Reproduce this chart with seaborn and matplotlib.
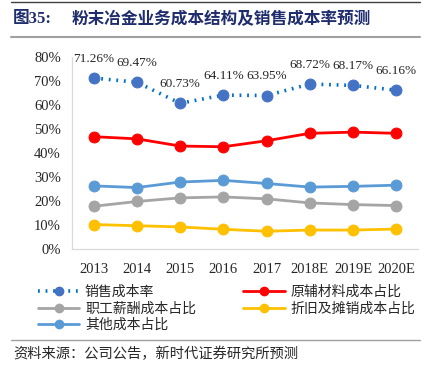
import numpy as np
import pandas as pd
import matplotlib
matplotlib.use("Agg")
import matplotlib.pyplot as plt
from matplotlib.ticker import PercentFormatter
from matplotlib.lines import Line2D
import seaborn as sns

years = ['2013', '2014', '2015', '2016', '2017', '2018E', '2019E', '2020E']
sales_cost_rate = [71.26, 69.47, 60.73, 64.11, 63.95, 68.72, 68.17, 66.16]
raw_material = [46.8, 45.9, 42.9, 42.6, 45.1, 48.2, 48.7, 48.2]
staff_pay = [17.8, 19.8, 21.3, 21.7, 20.9, 19.2, 18.5, 18.1]
depreciation = [10.2, 9.7, 9.2, 8.2, 7.4, 7.9, 7.9, 8.3]
other_cost = [26.3, 25.6, 27.9, 28.6, 27.3, 25.8, 26.1, 26.6]

sns.set_style("white")
plt.rcParams['font.family'] = ['Liberation Serif', 'Noto Sans CJK SC', 'DejaVu Sans']

fig = plt.figure(figsize=(4.29, 3.75), dpi=100)
ax = fig.add_axes([0.168, 0.336, 0.806, 0.512])

x = np.arange(len(years))
series = [
    ('原辅材料成本占比', raw_material, '#FF0000'),
    ('职工薪酬成本占比', staff_pay, '#A5A5A5'),
    ('折旧及摊销成本占比', depreciation, '#FFC000'),
    ('其他成本占比', other_cost, '#5B9BD5'),
]
for name, vals, c in series:
    sns.lineplot(x=x, y=vals, ax=ax, color=c, linewidth=2.0, marker='o',
                 markersize=7.8, markerfacecolor=c, markeredgecolor=c)

sns.lineplot(x=x, y=sales_cost_rate, ax=ax, color='#0070C0', linewidth=2.6,
             linestyle=(0, (0.5, 1.6)), marker='o', markersize=7.8,
             markerfacecolor='#4472C4', markeredgecolor='#4472C4')
for xi, v in zip(x, sales_cost_rate):
    ax.annotate(f'{v:.2f}%', (xi, v), xytext=(0, 14), textcoords='offset points',
                ha='center', va='center', fontsize=9.5, color='#262626')

ax.set_xlim(-0.5, len(years) - 0.5)
ax.set_ylim(0, 80)
ax.set_yticks(np.arange(0, 81, 10))
ax.yaxis.set_major_formatter(PercentFormatter(decimals=0))
ax.set_xticks(x)
ax.set_xticklabels(years)
ax.tick_params(axis='both', length=0, labelsize=10.5, colors='#262626')
ax.tick_params(axis='x', pad=10)
ax.tick_params(axis='y', pad=8)
for s in ['top', 'right']:
    ax.spines[s].set_visible(False)
for s in ['left', 'bottom']:
    ax.spines[s].set_color('#D9D9D9')
    ax.spines[s].set_linewidth(0.9)
ax.set_xlabel('')
ax.set_ylabel('')

# legend
h_sales = Line2D([], [], color='#0070C0', linewidth=2.6, linestyle=(0, (0.5, 1.6)),
                 marker='o', markersize=6, markerfacecolor='#4472C4', markeredgecolor='#4472C4')
h_raw = Line2D([], [], color='#FF0000', linewidth=2.0, marker='o', markersize=6)
h_staff = Line2D([], [], color='#A5A5A5', linewidth=2.0, marker='o', markersize=6)
h_dep = Line2D([], [], color='#FFC000', linewidth=2.0, marker='o', markersize=6)
h_other = Line2D([], [], color='#5B9BD5', linewidth=2.0, marker='o', markersize=6)
handles = [h_sales, h_staff, h_other, h_raw, h_dep]
labels = ['销售成本率', '职工薪酬成本占比', '其他成本占比', '原辅材料成本占比', '折旧及摊销成本占比']
fig.legend(handles, labels, loc='upper left', bbox_to_anchor=(0.088, 0.238), ncol=2,
           frameon=False, fontsize=10, handlelength=3.0, handletextpad=0.4,
           columnspacing=3.4, labelspacing=0.22, borderpad=0, borderaxespad=0)

# title, rules and source
fig.text(0.03, 0.948, '图35:', fontsize=12, fontweight='bold', color='#1F2D6E', va='center')
fig.text(0.168, 0.948, '粉末冶金业务成本结构及销售成本率预测', fontsize=12,
         fontweight='bold', color='#1F2D6E', va='center')
fig.add_artist(Line2D([0.025, 0.98], [0.994, 0.994], color='#404040', linewidth=1.0))
fig.add_artist(Line2D([0.025, 0.98], [0.901, 0.901], color='#A0A0A0', linewidth=1.5))
fig.add_artist(Line2D([0.025, 0.98], [0.093, 0.093], color='#A0A0A0', linewidth=1.0))
fig.text(0.03, 0.055, '资料来源：公司公告，新时代证券研究所预测', fontsize=10.3,
         color='#262626', va='center')

fig.savefig('out.png', dpi=100)
